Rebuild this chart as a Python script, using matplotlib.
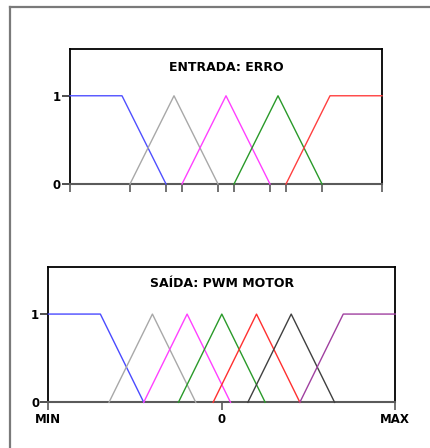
import matplotlib
matplotlib.use("Agg")
import matplotlib.pyplot as plt
from matplotlib.lines import Line2D

# ---------------- DATA ---------------- #
# membership sets as trapezoids (a, b, c, d): foot, shoulder, shoulder, foot
erro_sets = [
    (-3.0, -3.0, -2.0, -1.154),
    (-1.846, -1.0, -1.0, -0.154),
    (-0.846, 0.0, 0.0, 0.846),
    (0.154, 1.0, 1.0, 1.846),
    (1.154, 2.0, 3.0, 3.0),
]
erro_colors = ["#5050ff", "#a8a8a8", "#ff40ff", "#2a9a2a", "#ff4040"]
erro_xlim = (-3.0, 3.0)

pwm_sets = [
    (-5.0, -5.0, -3.5, -2.25),
    (-3.25, -2.0, -2.0, -0.75),
    (-2.25, -1.0, -1.0, 0.25),
    (-1.25, 0.0, 0.0, 1.25),
    (-0.25, 1.0, 1.0, 2.25),
    (0.75, 2.0, 2.0, 3.25),
    (2.25, 3.5, 5.0, 5.0),
]
pwm_colors = ["#4a4aff", "#a8a8a8", "#ff40ff", "#2a9a2a", "#ff3030", "#404040", "#a040a0"]
pwm_xlim = (-5.0, 5.0)
pwm_ticks = [-5.0, 0.0, 5.0]
pwm_ticklabels = ["MIN", "0", "MAX"]


def trap_points(a, b, c, d):
    xs, ys = [], []
    if a < b:
        xs.append(a); ys.append(0)
    xs += [b, c]; ys += [1, 1]
    if c < d:
        xs.append(d); ys.append(0)
    return xs, ys


def style_axes(ax, xlim, title, title_y):
    ax.set_xlim(*xlim)
    ax.set_ylim(0, 1.53)
    for s in ["left", "top", "right"]:
        ax.spines[s].set_color("black")
        ax.spines[s].set_linewidth(1.3)
    ax.spines["bottom"].set_color("#5a5a5a")
    ax.spines["bottom"].set_linewidth(1.5)
    ax.set_yticks([0, 1])
    ax.set_yticklabels(["0", "1"], fontweight="bold", fontsize=8.5)
    ax.tick_params(axis="y", length=6, width=1.2, color="#303030", pad=0.5)
    ax.tick_params(axis="x", direction="out", length=6, width=1.2, color="#5a5a5a", pad=2)
    ax.text(0.5, title_y, title, transform=ax.transAxes, ha="center", va="center",
            fontweight="bold", fontsize=9)


fig = plt.figure(figsize=(4.3, 4.48), dpi=100)

# page frame
fig.add_artist(Line2D([10 / 430, 1], [1 - 7 / 448, 1 - 7 / 448], color="#7a7a7a", lw=1.6))
fig.add_artist(Line2D([10 / 430, 10 / 430], [0, 1 - 7 / 448], color="#7a7a7a", lw=1.6))

# ---------------- ENTRADA ---------------- #
ax1 = fig.add_axes([70 / 430, 264 / 448, 312 / 430, 135 / 448])
for (a, b, c, d), col in zip(erro_sets, erro_colors):
    xs, ys = trap_points(a, b, c, d)
    ax1.plot(xs, ys, color=col, lw=1.0, clip_on=False, zorder=3)
feet = sorted({p for s in erro_sets for p in (s[0], s[3])} | set(erro_xlim))
ax1.set_xticks(feet)
ax1.set_xticklabels([])
style_axes(ax1, erro_xlim, "ENTRADA: ERRO", 0.86)

# ---------------- SAIDA ---------------- #
ax2 = fig.add_axes([48.3 / 430, 45.7 / 448, 347 / 430, 135 / 448])
for (a, b, c, d), col in zip(pwm_sets, pwm_colors):
    xs, ys = trap_points(a, b, c, d)
    ax2.plot(xs, ys, color=col, lw=1.0, clip_on=False, zorder=3)
ax2.set_xticks(pwm_ticks)
ax2.set_xticklabels(pwm_ticklabels, fontweight="bold", fontsize=8.5)
style_axes(ax2, pwm_xlim, "SAÍDA: PWM MOTOR", 0.88)

fig.savefig("out.png", dpi=100)
